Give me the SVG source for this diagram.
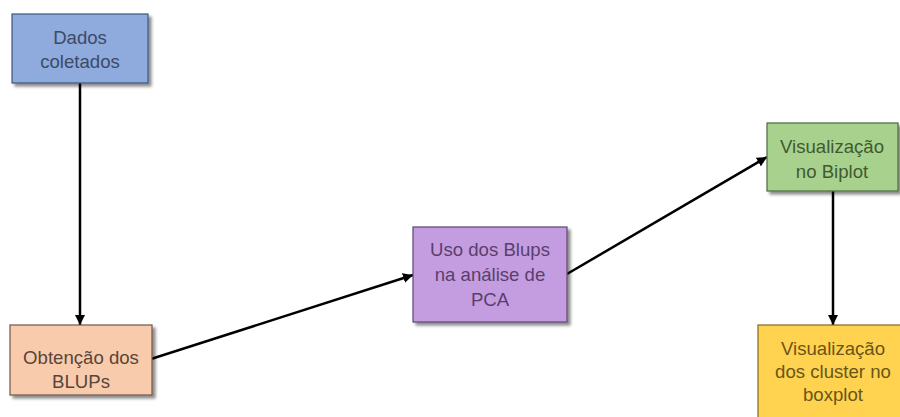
<svg xmlns="http://www.w3.org/2000/svg" width="900" height="417" viewBox="0 0 900 417">
  <defs>
    <filter id="shadow" x="-10%" y="-10%" width="130%" height="140%">
      <feDropShadow dx="3" dy="3" stdDeviation="1.8" flood-color="#000" flood-opacity="0.45"/>
    </filter>
    <marker id="arrow" viewBox="0 0 10 10" refX="10" refY="5" markerWidth="4" markerHeight="4" orient="auto" markerUnits="strokeWidth">
      <path d="M0,0 L10,5 L0,10 Z" fill="#000"/>
    </marker>
  </defs>
  <style>
    .box { stroke-width: 1.2; filter: url(#shadow); }
    .lbl { font-family: "Liberation Sans", Arial, sans-serif; font-size: 18.6px; text-anchor: middle; }
    .conn { stroke: #000; stroke-width: 2.5; fill: none; marker-end: url(#arrow); }
  </style>
  <rect width="900" height="417" fill="#fff"/>

  <g id="connectors">
    <line class="conn" x1="80" y1="83" x2="80" y2="325"/>
    <line class="conn" x1="151" y1="359" x2="413" y2="275"/>
    <line class="conn" x1="567" y1="274" x2="767" y2="157"/>
    <line class="conn" x1="833" y1="191" x2="833" y2="325"/>
  </g>

  <g id="dados-coletados">
    <rect class="box" x="12" y="14" width="136" height="69" fill="#8faadc" stroke="#3d5580"/>
    <text class="lbl" fill="#3b4b68"><tspan x="80" y="44">Dados</tspan><tspan x="80" y="68">coletados</tspan></text>
  </g>

  <g id="obtencao-blups">
    <rect class="box" x="10" y="325" width="142" height="70" fill="#f8cbad" stroke="#6e5548"/>
    <text class="lbl" fill="#5a4538"><tspan x="81" y="364">Obtenção dos</tspan><tspan x="81" y="388">BLUPs</tspan></text>
  </g>

  <g id="uso-blups-pca">
    <rect class="box" x="413" y="227" width="154" height="95" fill="#c49de0" stroke="#5c4470"/>
    <text class="lbl" fill="#5a3f6e"><tspan x="490" y="256">Uso dos Blups</tspan><tspan x="490" y="281">na análise de</tspan><tspan x="490" y="306">PCA</tspan></text>
  </g>

  <g id="visualizacao-biplot">
    <rect class="box" x="767" y="123" width="131" height="68" fill="#a9d18e" stroke="#4c6b3a"/>
    <text class="lbl" fill="#3f5a30"><tspan x="832" y="153">Visualização</tspan><tspan x="832" y="178">no Biplot</tspan></text>
  </g>

  <g id="visualizacao-cluster">
    <rect class="box" x="758" y="325" width="150" height="100" fill="#ffd34f" stroke="#806a2a"/>
    <text class="lbl" fill="#6a5518"><tspan x="833" y="355">Visualização</tspan><tspan x="833" y="378">dos cluster no</tspan><tspan x="833" y="401">boxplot</tspan></text>
  </g>
</svg>
